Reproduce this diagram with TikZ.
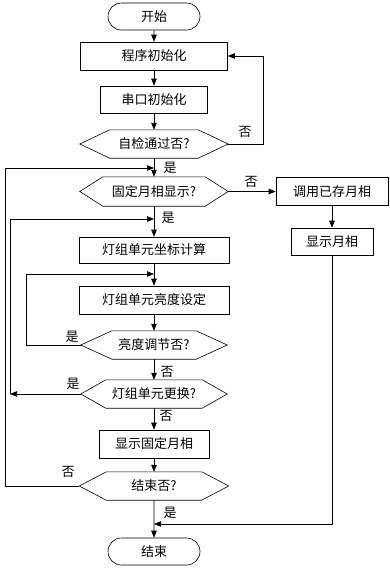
\documentclass[tikz,border=0pt]{standalone}
\usepackage{fontspec}
\newfontfamily\cjk{Noto Sans CJK SC}
\usetikzlibrary{arrows.meta,shapes.misc}

\begin{document}
\begin{tikzpicture}[
  x=1pt, y=-1pt,
  every node/.style={font=\cjk\fontsize{13}{15}\selectfont},
  proc/.style={draw, line width=0.6pt, minimum height=28pt, inner sep=0pt},
  term/.style={draw, line width=0.6pt, rounded rectangle, minimum width=92pt, minimum height=27pt, inner sep=0pt},
  decide/.style={minimum width=148pt, minimum height=28pt, inner sep=0pt,
    append after command={\pgfextra{\draw[line width=0.6pt] (\tikzlastnode.west)
      -- ([xshift=#1]\tikzlastnode.north west) -- ([xshift=-#1]\tikzlastnode.north east)
      -- (\tikzlastnode.east) -- ([xshift=-#1]\tikzlastnode.south east)
      -- ([xshift=#1]\tikzlastnode.south west) -- cycle;}}},
  flow/.style={-{Triangle[length=7pt,width=5.5pt]}, line width=0.6pt},
  lbl/.style={inner sep=0pt}
]
\useasboundingbox (0,0) rectangle (389,568);
\node[term] (start) at (154,16.5) {开始};
\node[proc, minimum width=147pt] (init) at (154,56) {程序初始化};
\node[proc, minimum width=107pt, minimum height=27pt] (uart) at (154,99.5) {串口初始化};
\node[decide=30pt] (check) at (154,144) {自检通过否?};
\node[decide=23pt, minimum height=29pt] (fixq) at (154,191.5) {固定月相显示?};
\node[proc, minimum width=112pt] (call) at (332,191.5) {调用已存月相};
\node[proc, minimum width=82pt, minimum height=27pt] (show) at (332,241.5) {显示月相};
\node[proc, minimum width=150pt, minimum height=26pt] (coord) at (154,250) {灯组单元坐标计算};
\node[proc, minimum width=150pt] (bright) at (154,300) {灯组单元亮度设定};
\node[decide=31pt, minimum width=146pt] (adj) at (154,345) {亮度调节否?};
\node[decide=25pt, minimum width=146pt] (swap) at (154,394) {灯组单元更换?};
\node[proc, minimum width=110pt] (fixshow) at (154,444) {显示固定月相};
\node[decide=27pt, minimum width=149pt] (endq) at (154,486) {结束否?};
\node[term] (stop) at (154,551.5) {结束};
% corner and merge points
\coordinate (c1) at (5,486);
\coordinate (c2) at (10,394);
\coordinate (c3) at (26,345);
\coordinate (c4) at (263,144);
\coordinate (m1) at (154,168);
\coordinate (m2) at (154,219);
\coordinate (m3) at (154,274);
\coordinate (m4) at (154,524);
% main column
\draw[flow] (start) -- (init);
\draw[flow] (init) -- (uart);
\draw[flow] (uart) -- (check);
\draw[flow] (check) -- (fixq);
\draw[flow] (fixq) -- (coord);
\draw[flow] (coord) -- (bright);
\draw[flow] (bright) -- (adj);
\draw[flow] (adj) -- (swap);
\draw[flow] (swap) -- (fixshow);
\draw[flow] (fixshow) -- (endq);
\draw[flow] (endq) -- (stop);
% side branch
\draw[flow] (fixq.east) -- (call.west);
\draw[flow] (call) -- (show);
\draw[flow] (show.south) |- (m4);
% loops
\draw[flow] (check.east) -- (c4) |- (init.east);
\draw[flow] (endq.west) -- (c1) |- (m1);
\draw[flow] (swap.west) -- (c2);
\draw[flow] (c2) |- (m2);
\draw[flow] (adj.west) -- (c3) |- (m3);
% labels
\node[lbl] (l1) at (245,132) {否};
\node[lbl] (l2) at (170,168) {是};
\node[lbl] (l3) at (251,182) {否};
\node[lbl] (l4) at (168,218) {是};
\node[lbl] (l5) at (72,337) {是};
\node[lbl] (l6) at (167,372) {否};
\node[lbl] (l7) at (73,384) {是};
\node[lbl] (l8) at (166,416) {否};
\node[lbl] (l9) at (68,472) {否};
\node[lbl] (l10) at (170,513) {是};
\end{tikzpicture}
\end{document}
